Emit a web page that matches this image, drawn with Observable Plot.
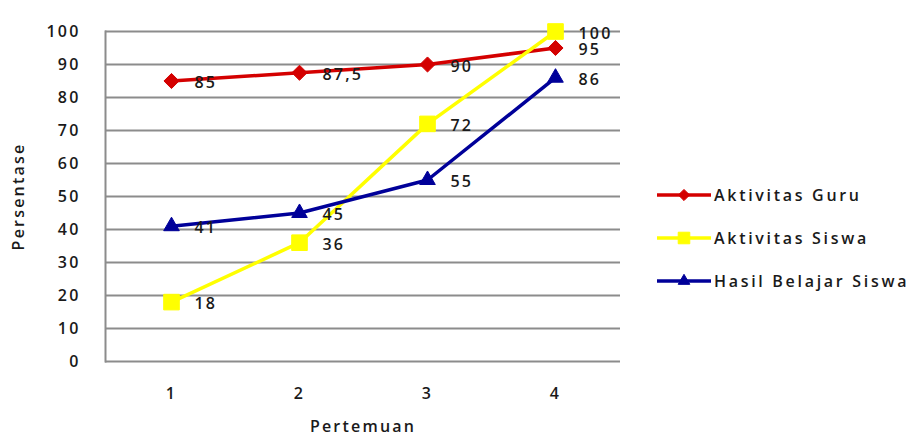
<!DOCTYPE html>
<html>
<head>
<meta charset="utf-8">
<script src="https://cdn.jsdelivr.net/npm/d3@7"></script>
<script src="https://cdn.jsdelivr.net/npm/@observablehq/plot@0.6"></script>
<style>
  html, body { margin: 0; padding: 0; background: #fff; }
  #wrap { position: relative; width: 911px; height: 439px; font-family: "Open Sans", sans-serif; }
  #legend { position: absolute; left: 657px; top: 173px; }
  .item { display: flex; align-items: center; height: 43px; font-size: 16px; font-weight: 600; letter-spacing: 2.7px; color: #1a1a1a; }
  .item svg { margin-right: 3px; }
</style>
</head>
<body>
<div id="wrap"><div id="legend"></div></div>
<script>
const pertemuan = [1, 2, 3, 4];
const seriesNames = ["Aktivitas Guru", "Aktivitas Siswa", "Hasil Belajar Siswa"];
const aktivitasGuru = [85, 87.5, 90, 95];
const aktivitasSiswa = [18, 36, 72, 100];
const hasilBelajar = [41, 45, 55, 86];
const yTicks = [0, 10, 20, 30, 40, 50, 60, 70, 80, 90, 100];
const colors = ["#d40000", "#ffff00", "#000099"];
const symbols = ["diamond2", "square", "triangle"];
const radii = [6.8, 8.8, 5.8];

const values = [aktivitasGuru, aktivitasSiswa, hasilBelajar];
const data = [];
seriesNames.forEach((s, i) => pertemuan.forEach((p, j) => data.push({series: s, x: p, y: values[i][j], label: String(values[i][j]).replace(".", ",")})));

const font = "Open Sans, sans-serif";
const txt = {fontSize: 16, fontWeight: 600, fill: "#1a1a1a", fontFamily: font};
const marks = [
  Plot.ruleY(yTicks, {stroke: "#8c8c8c", strokeWidth: 2}),
  Plot.frame({anchor: "left", stroke: "#8c8c8c", strokeWidth: 2}),
  Plot.axisY({ticks: yTicks, tickSize: 0, tickPadding: 25, label: null, ...txt}),
  Plot.axisX({tickSize: 0, tickPadding: 26, label: null, ...txt}),
  Plot.text(["Persentase"], {frameAnchor: "left", dx: -87, rotate: -90, textAnchor: "middle", lineAnchor: "middle", ...txt}),
  Plot.text(["Pertemuan"], {frameAnchor: "bottom", dy: 65, textAnchor: "middle", lineAnchor: "middle", ...txt})
];
seriesNames.forEach((s, i) => {
  const d = data.filter(r => r.series === s);
  marks.push(Plot.line(d, {x: "x", y: "y", stroke: colors[i], strokeWidth: 3.5}));
  marks.push(Plot.dot(d, {x: "x", y: "y", fill: colors[i], stroke: colors[i], strokeWidth: 1, symbol: symbols[i], r: radii[i]}));
});
marks.push(Plot.text(data, {x: "x", y: "y", text: "label", dx: 23, dy: 2, textAnchor: "start", ...txt}));

const chart = Plot.plot({
  width: 911,
  height: 439,
  marginLeft: 105,
  marginRight: 291,
  marginTop: 31,
  marginBottom: 78,
  style: {fontFamily: font, background: "#fff", letterSpacing: "2.2px"},
  x: {type: "point", domain: pertemuan, padding: 0.5},
  y: {domain: [0, 100]},
  marks
});
document.getElementById("wrap").prepend(chart);

const legend = document.getElementById("legend");
seriesNames.forEach((s, i) => {
  const item = document.createElement("div");
  item.className = "item";
  const sw = d3.create("svg").attr("width", 54).attr("height", 20);
  sw.append("line").attr("x1", 0).attr("x2", 54).attr("y1", 10).attr("y2", 10).attr("stroke", colors[i]).attr("stroke-width", 3.5);
  const sym = {diamond2: d3.symbolDiamond2, square: d3.symbolSquare, triangle: d3.symbolTriangle}[symbols[i]];
  sw.append("path").attr("transform", "translate(27,10)").attr("d", d3.symbol(sym, Math.PI * radii[i] * radii[i] * 0.55)()).attr("fill", colors[i]).attr("stroke", colors[i]);
  item.appendChild(sw.node());
  const t = document.createElement("span");
  t.textContent = s;
  item.appendChild(t);
  legend.appendChild(item);
});
</script>
</body>
</html>
